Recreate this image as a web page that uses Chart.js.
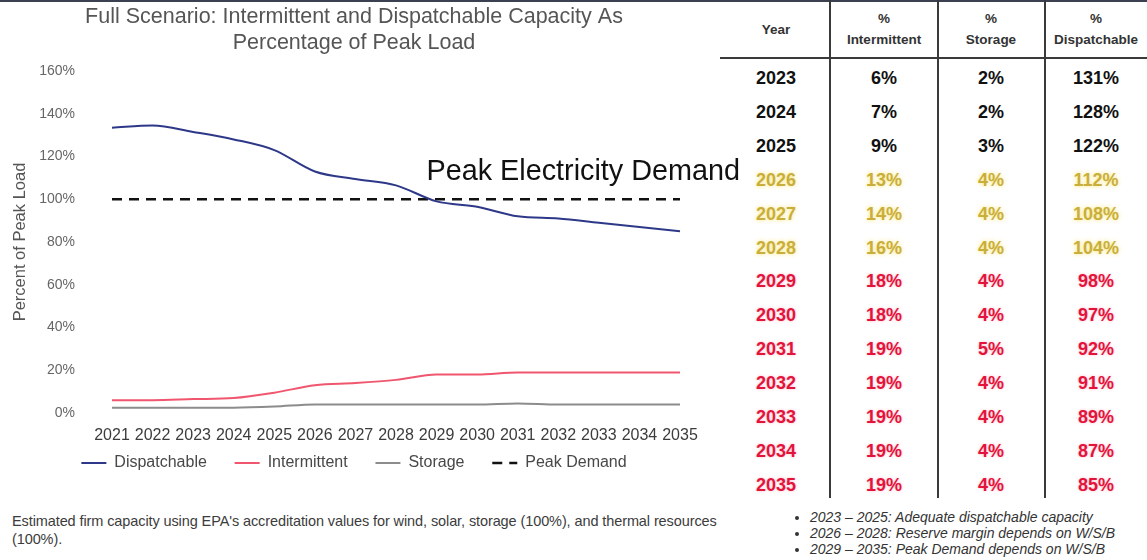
<!DOCTYPE html>
<html>
<head>
<meta charset="utf-8">
<title>Full Scenario capacity</title>
<script src="https://cdn.jsdelivr.net/npm/chart.js@4.4.1/dist/chart.umd.min.js"></script>
<style>
    html, body { margin: 0; padding: 0; background: #fff; }
    body {
        width: 1147px; height: 560px; position: relative; overflow: hidden;
        font-family: Arial, "Liberation Sans", sans-serif;
    }
    #topBar { position: absolute; left: 0; top: 0; width: 1147px; height: 2px; background: #3b4150; }
    #chartBox { position: absolute; left: 0; top: 0; width: 745px; height: 481px; z-index: 2; }
    #capacityTable { position: absolute; left: 720px; top: 0; width: 427px; height: 505px; z-index: 1; }
    .vline { position: absolute; top: 0; width: 2px; height: 498px; background: #3a3a3a; }
    .hline { position: absolute; left: 0; top: 57px; width: 427px; height: 2px; background: #3a3a3a; }
    .cell {
        position: absolute; transform: translate(-50%, -50%);
        white-space: nowrap; text-align: center;
        font-size: 18px; font-weight: bold;
    }
    .head { font-size: 13.5px; font-weight: bold; color: #333; line-height: 21px; }
    #note {
        position: absolute; left: 12px; top: 512px; width: 720px;
        font-size: 14.5px; line-height: 18px; color: #3c3c3c; letter-spacing: -0.1px;
    }
    #bullets {
        position: absolute; left: 790px; top: 509px; margin: 0; padding-left: 20px;
        font-size: 14px; line-height: 16px; font-style: italic; color: #333;
    }
</style>
</head>
<body>
<div id="topBar"></div>
<div id="capacityTable"></div>
<div id="chartBox"><canvas id="capacityChart" width="745" height="481"></canvas></div>
<div id="note">Estimated firm capacity using EPA's accreditation values for wind, solar, storage (100%), and thermal resources<br>(100%).</div>
<ul id="bullets">
    <li>2023 – 2025: Adequate dispatchable capacity</li>
    <li>2026 – 2028: Reserve margin depends on W/S/B</li>
    <li>2029 – 2035: Peak Demand depends on W/S/B</li>
</ul>

<script>
// =============================================
// DADOS - lidos do gráfico / tabela
// =============================================

const years = ['2021', '2022', '2023', '2024', '2025', '2026', '2027', '2028',
               '2029', '2030', '2031', '2032', '2033', '2034', '2035'];
const dispatchable = [133.5, 134.5, 131.5, 128, 123, 113, 109.5, 106.5, 99, 96.5, 92, 91, 89, 87, 85];
const intermittent = [6, 6, 6.5, 7, 9.5, 13, 14, 15.5, 18, 18, 19, 19, 19, 19, 19];
const storage = [2.5, 2.5, 2.5, 2.5, 3, 4, 4, 4, 4, 4, 4.5, 4, 4, 4, 4];
const peakDemand = [100, 100, 100, 100, 100, 100, 100, 100, 100, 100, 100, 100, 100, 100, 100];

const seriesNames = ['Dispatchable', 'Intermittent', 'Storage', 'Peak Demand'];
const chartTitle = ['Full Scenario: Intermittent and Dispatchable Capacity As', 'Percentage of Peak Load'];
const yAxisTitle = 'Percent of Peak Load';
const yMin = 0;
const yMax = 160;
const yStep = 20;
const peakLabel = 'Peak Electricity Demand';

// tabela à direita
const tableHeaders = [['Year'], ['%', 'Intermittent'], ['%', 'Storage'], ['%', 'Dispatchable']];
const tableYears = [2023, 2024, 2025, 2026, 2027, 2028, 2029, 2030, 2031, 2032, 2033, 2034, 2035];
const tableIntermittent = [6, 7, 9, 13, 14, 16, 18, 18, 19, 19, 19, 19, 19];
const tableStorage = [2, 2, 3, 4, 4, 4, 4, 4, 5, 4, 4, 4, 4];
const tableDispatchable = [131, 128, 122, 112, 108, 104, 98, 97, 92, 91, 89, 87, 85];

// layout da tabela (px, relativo ao bloco)
const COL_CENTERS = [56, 164, 271, 376];
const COL_LINES = [109, 217, 324];
const ROW_FIRST = 78;
const ROW_STEP = 33.9;

const FONT = 'Arial, "Liberation Sans", sans-serif';
const LEGEND_GAP = '    ';   // espaço extra entre itens da legenda

let capacityChart = null;

// texto "Peak Electricity Demand" acima da linha tracejada
const peakLabelPlugin = {
    id: 'peakLabel',
    afterDatasetsDraw(chart) {
        const { ctx, scales: { x, y } } = chart;
        ctx.save();
        ctx.font = '28.8px ' + FONT;
        ctx.fillStyle = '#111';
        ctx.textAlign = 'left';
        ctx.textBaseline = 'middle';
        ctx.fillText(peakLabel, x.getPixelForValue(7.75), y.getPixelForValue(112.5));
        ctx.restore();
    }
};

function legendLabels(chart) {
    const items = Chart.defaults.plugins.legend.labels.generateLabels(chart);
    items.forEach((item, i) => {
        const ds = chart.data.datasets[item.datasetIndex];
        item.lineDash = ds.borderDash || [];
        item.lineWidth = ds.borderWidth;
        item.strokeStyle = ds.borderColor;
        if (i < items.length - 1) item.text = item.text + LEGEND_GAP;
    });
    return items;
}

function renderCapacityChart() {
    const canvas = document.getElementById('capacityChart');
    if (!canvas) return;
    const ctx = canvas.getContext('2d');

    if (capacityChart) capacityChart.destroy();

    const lineBase = { fill: false, pointRadius: 0, pointHoverRadius: 0, borderWidth: 2, cubicInterpolationMode: 'monotone' };

    capacityChart = new Chart(ctx, {
        type: 'line',
        data: {
            labels: years,
            datasets: [
                { ...lineBase, label: seriesNames[0], data: dispatchable, borderColor: '#2e3888', backgroundColor: '#2e3888' },
                { ...lineBase, label: seriesNames[1], data: intermittent, borderColor: '#f0566e', backgroundColor: '#f0566e' },
                { ...lineBase, label: seriesNames[2], data: storage, borderColor: '#8c8c8c', backgroundColor: '#8c8c8c' },
                { ...lineBase, label: seriesNames[3], data: peakDemand, borderColor: '#111', backgroundColor: '#111',
                  borderWidth: 2.5, borderDash: [10, 7], cubicInterpolationMode: 'default', tension: 0 }
            ]
        },
        options: {
            responsive: false,
            animation: false,
            layout: { padding: { left: 28, right: 65, top: 0, bottom: 0 } },
            plugins: {
                title: {
                    display: true,
                    text: chartTitle,
                    color: '#555',
                    font: { size: 21.5, weight: 'normal', family: FONT, lineHeight: 1.17 },
                    padding: { top: 5, bottom: 15.7 }
                },
                legend: {
                    position: 'bottom',
                    labels: {
                        usePointStyle: true,
                        pointStyle: 'line',
                        pointStyleWidth: 25,
                        padding: 10,
                        color: '#484848',
                        font: { size: 16, family: FONT },
                        generateLabels: legendLabels
                    }
                },
                tooltip: { enabled: false }
            },
            scales: {
                x: {
                    grid: { display: false, drawTicks: false },
                    border: { display: false },
                    ticks: {
                        color: '#3c3c3c',
                        padding: 13,
                        maxRotation: 0,
                        autoSkip: false,
                        font: { size: 16, family: FONT }
                    },
                    afterFit: (scale) => { scale.height = 32; }
                },
                y: {
                    min: yMin,
                    max: yMax,
                    grid: { display: false, drawTicks: false },
                    border: { display: false },
                    ticks: {
                        stepSize: yStep,
                        padding: 37,
                        color: '#666',
                        font: { size: 14, family: FONT },
                        callback: (v) => v + '%'
                    },
                    title: {
                        display: true,
                        text: yAxisTitle,
                        color: '#555',
                        padding: { top: -17, bottom: 0 },
                        font: { size: 16.5, family: FONT }
                    },
                    afterFit: (scale) => { scale.width = 84; }
                }
            }
        },
        plugins: [peakLabelPlugin]
    });
}

function rowStyle(year) {
    if (year <= 2025) return 'color:#111;';
    if (year <= 2028) return 'color:#c9ae3c;text-shadow:0 0 4px rgba(250,225,100,0.9);';
    return 'color:#e3143c;text-shadow:0 0 3px rgba(255,160,180,0.7);';
}

function renderCapacityTable() {
    const box = document.getElementById('capacityTable');
    if (!box) return;

    let html = '';
    COL_LINES.forEach(x => { html += `<div class="vline" style="left:${x}px"></div>`; });
    html += '<div class="hline"></div>';

    // cabeçalho
    tableHeaders.forEach((lines, c) => {
        html += `<div class="cell head" style="left:${COL_CENTERS[c]}px;top:29px">${lines.join('<br>')}</div>`;
    });

    // linhas
    tableYears.forEach((year, i) => {
        const top = ROW_FIRST + i * ROW_STEP;
        const style = rowStyle(year);
        const values = [year, tableIntermittent[i] + '%', tableStorage[i] + '%', tableDispatchable[i] + '%'];
        values.forEach((v, c) => {
            html += `<div class="cell" style="left:${COL_CENTERS[c]}px;top:${top}px;${style}">${v}</div>`;
        });
    });

    box.innerHTML = html;
}

renderCapacityTable();
renderCapacityChart();
</script>
</body>
</html>
